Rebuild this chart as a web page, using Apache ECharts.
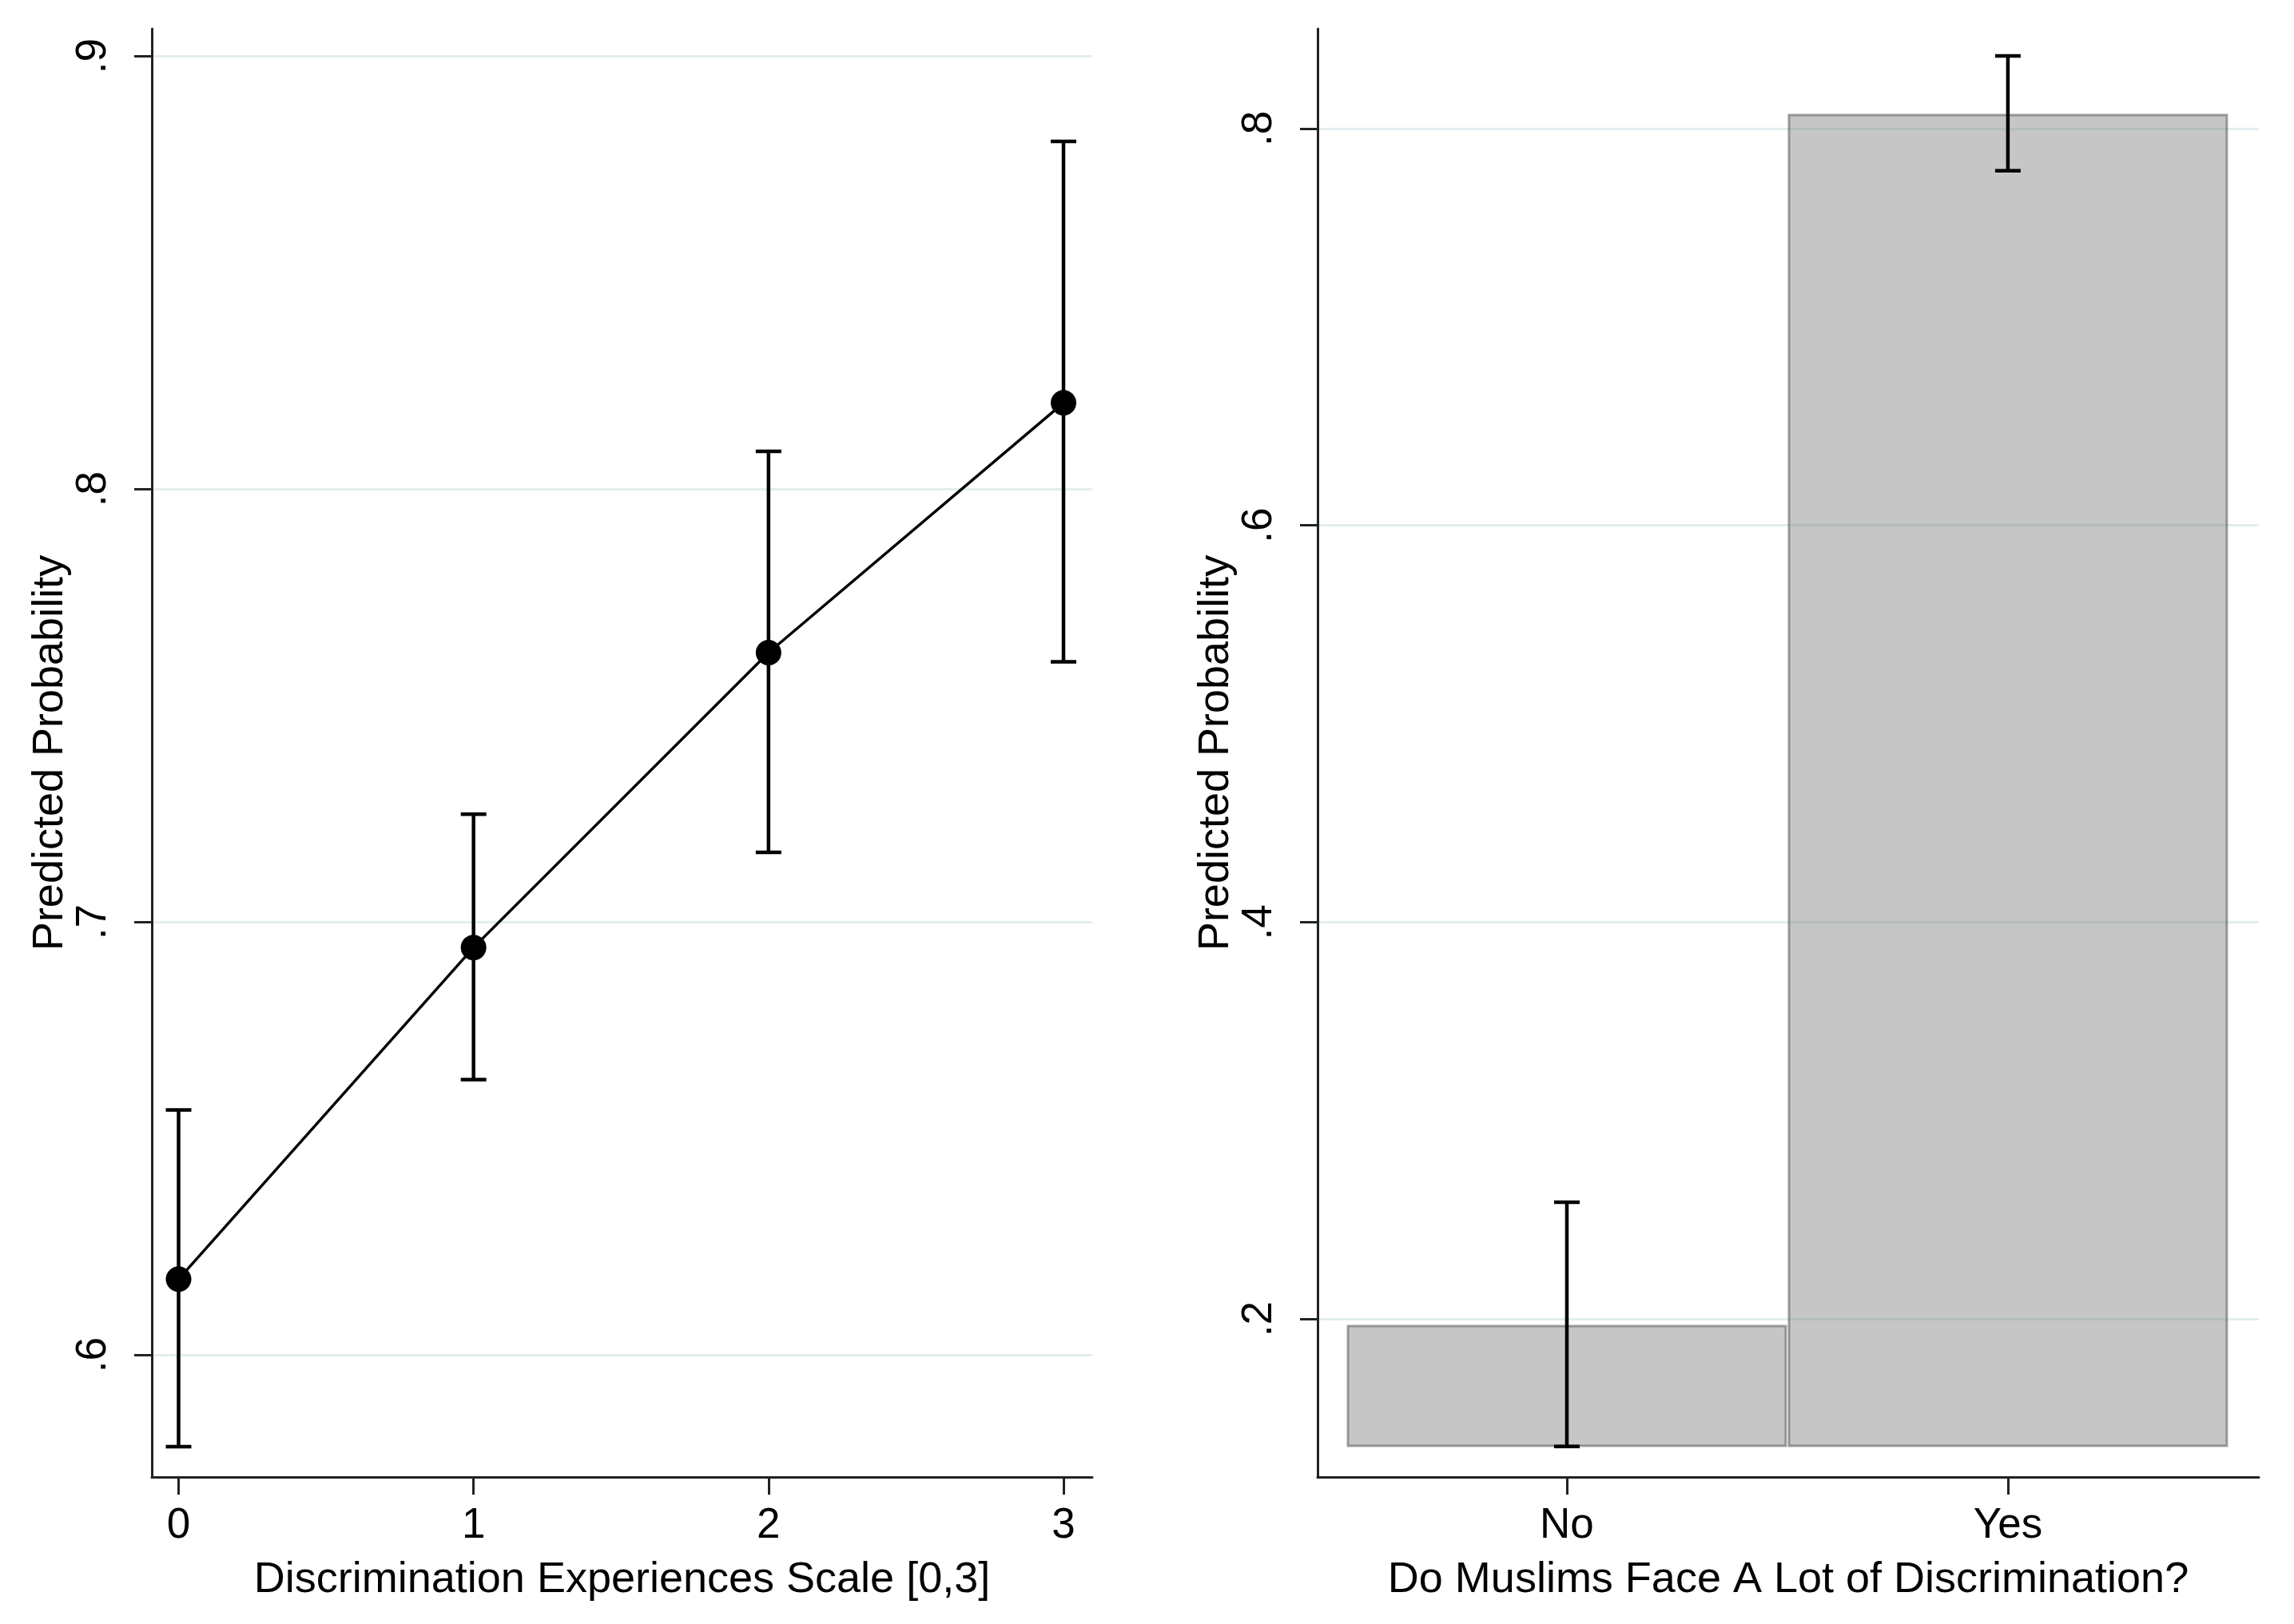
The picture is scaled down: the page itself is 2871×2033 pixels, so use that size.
<!DOCTYPE html>
<html>
<head>
<meta charset="utf-8">
<script src="https://cdn.jsdelivr.net/npm/echarts@6/dist/echarts.min.js"></script>
<style>
html,body{margin:0;padding:0;background:#fff;}
#chart{width:2871px;height:2033px;}
</style>
</head>
<body>
<div id="chart"></div>
<script>
// ---- Left panel data ----
const leftX = [0, 1, 2, 3];
const leftEst = [0.6175, 0.6941, 0.7622, 0.8199];
const leftLo = [0.5788, 0.6636, 0.7161, 0.7601];
const leftHi = [0.6566, 0.7249, 0.8087, 0.8803];
const leftYTicks = [0.6, 0.7, 0.8, 0.9];
const leftXTicks = [0, 1, 2, 3];

// ---- Right panel data ----
const rightCats = ['No', 'Yes'];
const rightX = [1, 2];
const rightEst = [0.1964, 0.8068];
const rightLo = [0.1357, 0.7787];
const rightHi = [0.2588, 0.8366];
const rightBase = 0.1360;
const rightYTicks = [0.2, 0.4, 0.6, 0.8];

const FONT = '"Liberation Sans", Arial, Helvetica, sans-serif';
const fmtDot = v => String(+v.toFixed(4)).replace(/^0\./, '.');

const axisLineStyle = { color: '#222', width: 3 };
const gridStyle = { color: '#e2eeef', width: 3 };

function errRender(params, api) {
  const x = api.value(0), lo = api.value(1), hi = api.value(2);
  const p1 = api.coord([x, lo]);
  const p2 = api.coord([x, hi]);
  const cap = 16;
  const st = { stroke: '#000', lineWidth: 4.5 };
  return {
    type: 'group',
    children: [
      { type: 'line', shape: { x1: p1[0], y1: p1[1], x2: p2[0], y2: p2[1] }, style: st },
      { type: 'line', shape: { x1: p1[0] - cap, y1: p1[1], x2: p1[0] + cap, y2: p1[1] }, style: st },
      { type: 'line', shape: { x1: p2[0] - cap, y1: p2[1], x2: p2[0] + cap, y2: p2[1] }, style: st }
    ]
  };
}

function barRender(params, api) {
  const x = api.value(0), top = api.value(1), base = api.value(2);
  const half = 0.4964;
  const a = api.coord([x - half, top]);
  const b = api.coord([x + half, base]);
  return {
    type: 'rect',
    shape: { x: a[0], y: a[1], width: b[0] - a[0], height: b[1] - a[1] },
    style: { fill: 'rgba(120,120,120,0.42)', stroke: 'rgba(90,90,90,0.55)', lineWidth: 3 }
  };
}

const chart = echarts.init(document.getElementById('chart'), null, { renderer: 'canvas' });

const commonLabel = { color: '#000', fontFamily: FONT, fontSize: 53 };
const nameStyle = { color: '#000', fontFamily: FONT, fontSize: 54 };

const option = {
  backgroundColor: '#fff',
  animation: false,
  grid: [
    { left: 190, top: 36, width: 1177, height: 1813 },
    { left: 1649, top: 36, width: 1178, height: 1813 }
  ],
  xAxis: [
    {
      gridIndex: 0, type: 'value', min: -0.0907, max: 3.0975,
      name: 'Discrimination Experiences Scale [0,3]', nameLocation: 'middle', nameGap: 102,
      nameTextStyle: nameStyle,
      axisLine: { show: true, onZero: false, lineStyle: axisLineStyle },
      axisTick: { show: true, length: 22, lineStyle: axisLineStyle, customValues: leftXTicks },
      axisLabel: Object.assign({}, commonLabel, { margin: 35, customValues: leftXTicks, formatter: v => String(v) }),
      splitLine: { show: false }
    },
    {
      gridIndex: 1, type: 'value', min: 0.4348, max: 2.569,
      name: 'Do Muslims Face A Lot of Discrimination?', nameLocation: 'middle', nameGap: 102,
      nameTextStyle: nameStyle,
      axisLine: { show: true, onZero: false, lineStyle: axisLineStyle },
      axisTick: { show: true, length: 22, lineStyle: axisLineStyle, customValues: rightX },
      axisLabel: Object.assign({}, commonLabel, { margin: 35, customValues: rightX,
        formatter: v => rightCats[rightX.indexOf(Math.round(v))] || '' }),
      splitLine: { show: false }
    }
  ],
  yAxis: [
    {
      gridIndex: 0, type: 'value', min: 0.5718, max: 0.9063,
      name: 'Predicted Probability', nameLocation: 'middle', nameGap: 100, nameRotate: 90,
      nameTextStyle: nameStyle,
      axisLine: { show: true, onZero: false, lineStyle: axisLineStyle },
      axisTick: { show: true, length: 22, lineStyle: axisLineStyle, customValues: leftYTicks },
      axisLabel: Object.assign({}, commonLabel, { rotate: 90, margin: 46, customValues: leftYTicks, formatter: fmtDot }),
      splitLine: { show: true, lineStyle: gridStyle }
    },
    {
      gridIndex: 1, type: 'value', min: 0.1203, max: 0.8503,
      name: 'Predicted Probability', nameLocation: 'middle', nameGap: 100, nameRotate: 90,
      nameTextStyle: nameStyle,
      axisLine: { show: true, onZero: false, lineStyle: axisLineStyle },
      axisTick: { show: true, length: 22, lineStyle: axisLineStyle, customValues: rightYTicks },
      axisLabel: Object.assign({}, commonLabel, { rotate: 90, margin: 46, customValues: rightYTicks, formatter: fmtDot }),
      splitLine: { show: true, lineStyle: gridStyle }
    }
  ],
  series: [
    {
      type: 'custom', xAxisIndex: 1, yAxisIndex: 1, renderItem: barRender, z: 2,
      data: rightX.map((x, i) => [x, rightEst[i], rightBase])
    },
    {
      type: 'custom', xAxisIndex: 0, yAxisIndex: 0, renderItem: errRender, z: 3,
      data: leftX.map((x, i) => [x, leftLo[i], leftHi[i]])
    },
    {
      type: 'line', xAxisIndex: 0, yAxisIndex: 0, z: 4,
      data: leftX.map((x, i) => [x, leftEst[i]]),
      symbol: 'circle', symbolSize: 32,
      itemStyle: { color: '#000' },
      lineStyle: { color: '#000', width: 3.5 }
    },
    {
      type: 'custom', xAxisIndex: 1, yAxisIndex: 1, renderItem: errRender, z: 5,
      data: rightX.map((x, i) => [x, rightLo[i], rightHi[i]])
    }
  ]
};
chart.setOption(option);
</script>
</body>
</html>
